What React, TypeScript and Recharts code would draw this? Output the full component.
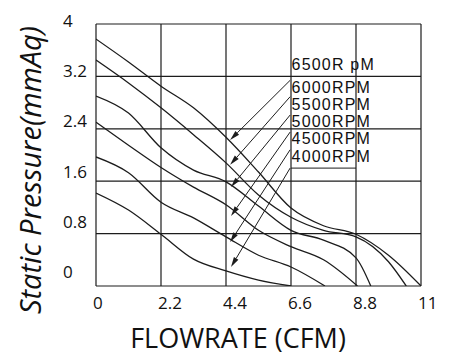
import { LineChart, Line, XAxis, YAxis, CartesianGrid, ReferenceLine, ReferenceDot, Label } from "recharts";

// axis ticks
const flowTicks = [0, 2.2, 4.4, 6.6, 8.8, 11];
const pressureTicks = [0, 0.8, 1.6, 2.4, 3.2, 4];

// flow sample points (CFM)
const flow = [0, 1.1, 2.2, 3.3, 4.4, 5.5, 6.6, 7.7, 8.8, 9.9];

// static pressure (mmAq) read at each flow point
const rpm6500 = [3.77, 3.42, 3.05, 2.72, 2.27, 1.74, 1.19, 0.92, 0.79, 0.47];
const rpm6000 = [3.45, 3.1, 2.72, 2.31, 1.88, 1.39, 1.05, 0.85, 0.75, 0.37];
const rpm5500 = [2.9, 2.64, 2.11, 1.77, 1.59, 1.22, 0.85, 0.7, 0.43];
const rpm5000 = [2.5, 2.15, 1.81, 1.51, 1.24, 0.85, 0.6, 0.4];
const rpm4500 = [1.97, 1.73, 1.28, 1.04, 0.75, 0.47, 0.29];
const rpm4000 = [1.42, 1.16, 0.79, 0.41, 0.23, 0.09];

// free-air flow where each curve hits zero pressure
const freeAir = [11, 10.5, 9.3, 8.85, 7.75, 6.6];

const curves = [rpm6500, rpm6000, rpm5500, rpm5000, rpm4500, rpm4000];

// annotation labels + leader arrows (data units)
const labelNames = ["6500R pM", "6000RPM", "5500RPM", "5000RPM", "4500RPM", "4000RPM"];
const labelFlow = 6.62;
const labelPressure = [3.3, 2.95, 2.69, 2.43, 2.17, 1.89];
const arrowFrom = [
  [6.57, 3.14],
  [6.57, 2.89],
  [6.57, 2.61],
  [6.57, 2.35],
  [6.57, 2.08],
  [6.57, 1.8],
];
const arrowTo = [
  [4.54, 2.23],
  [4.54, 1.85],
  [4.57, 1.51],
  [4.57, 1.07],
  [4.54, 0.67],
  [4.57, 0.29],
];

const INK = "#1c1c1c";

const seriesData = curves.map((vals, i) => [
  ...vals.map((p, j) => ({ x: flow[j], p })),
  { x: freeAir[i], p: 0 },
]);

function Arrow(props: any) {
  const { x1, y1, x2, y2 } = props;
  const ang = Math.atan2(y2 - y1, x2 - x1);
  const len = 10;
  const half = 2.6;
  const bx = x2 - len * Math.cos(ang);
  const by = y2 - len * Math.sin(ang);
  const px = -Math.sin(ang) * half;
  const py = Math.cos(ang) * half;
  return (
    <g>
      <line x1={x1} y1={y1} x2={bx} y2={by} stroke={INK} strokeWidth={1} />
      <polygon points={`${x2},${y2} ${bx + px},${by + py} ${bx - px},${by - py}`} fill={INK} />
    </g>
  );
}

function YTick(props: any) {
  const { y, payload } = props;
  const v = payload.value;
  // labels drift slightly upward relative to the grid lines in the original
  const shift = -3 - ((4 - v) / 0.8) * 2.2;
  return (
    <text x={63} y={y + shift} dy="0.35em" textAnchor="start" fontFamily="Open Sans" fontSize={17} fill="#111">
      {v}
    </text>
  );
}

function XTick(props: any) {
  const { x, payload } = props;
  return (
    <text x={x - 3} y={309} textAnchor="start" fontFamily="Open Sans" fontSize={17} fill="#111">
      {payload.value}
    </text>
  );
}

export default function App() {
  return (
    <div style={{ position: "absolute", left: 0, top: 0, background: "#fff" }}>
      <LineChart width={469} height={357} margin={{ top: 24, right: 48, bottom: 21, left: 36 }}>
        <CartesianGrid stroke={INK} strokeWidth={1.2} />
        <XAxis
          dataKey="x"
          type="number"
          domain={[0, 11]}
          ticks={flowTicks}
          allowDataOverflow
          axisLine={false}
          tickLine={false}
          height={50}
          tick={<XTick />}
        >
          <Label
            content={() => (
              <text x={238} y={348} textAnchor="middle" fontFamily="Open Sans" fontSize={27} fill="#111">
                FLOWRATE (CFM)
              </text>
            )}
          />
        </XAxis>
        <YAxis
          type="number"
          domain={[0, 4]}
          ticks={pressureTicks}
          allowDataOverflow
          axisLine={false}
          tickLine={false}
          width={60}
          tick={<YTick />}
        >
          <Label
            content={() => (
              <text
                x={29}
                y={170}
                transform="rotate(-90 29 170)"
                textAnchor="middle"
                dominantBaseline="central"
                fontFamily="Open Sans"
                fontStyle="italic"
                fontSize={29}
                fill="#111"
              >
                Static Pressure(mmAq)
              </text>
            )}
          />
        </YAxis>
        {seriesData.map((d, i) => (
          <Line
            key={labelNames[i]}
            data={d}
            dataKey="p"
            type="monotone"
            stroke={INK}
            strokeWidth={1.3}
            dot={false}
            activeDot={false}
            isAnimationActive={false}
          />
        ))}
        <ReferenceLine
          segment={[
            { x: 6.6, y: 1.8 },
            { x: 8.8, y: 1.8 },
          ]}
          stroke={INK}
          strokeWidth={1}
        />
        {arrowFrom.map((from, i) => (
          <ReferenceLine
            key={"arrow" + i}
            segment={[
              { x: from[0], y: from[1] },
              { x: arrowTo[i][0], y: arrowTo[i][1] },
            ]}
            shape={<Arrow />}
          />
        ))}
        {labelNames.map((name, i) => (
          <ReferenceDot
            key={name}
            x={labelFlow}
            y={labelPressure[i]}
            r={0}
            shape={(p: any) => (
              <text
                x={p.cx}
                y={p.cy}
                fontFamily="Liberation Sans"
                fontSize={16}
                letterSpacing={1.2}
                fill="#111"
              >
                {name}
              </text>
            )}
          />
        ))}
      </LineChart>
    </div>
  );
}
